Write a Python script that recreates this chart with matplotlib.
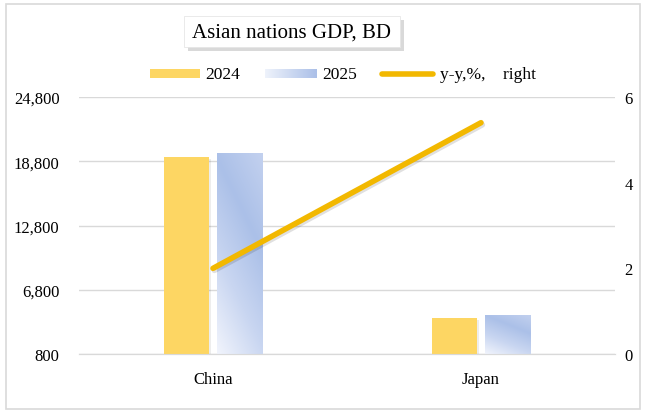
import numpy as np
import matplotlib.pyplot as plt
import matplotlib.patheffects as pe
from matplotlib.patches import Rectangle
from matplotlib.colors import LinearSegmentedColormap

# ============================================================
# DATA
# ============================================================

countries = ["China", "Japan"]
gdp_2024 = [19200, 4150]
gdp_2025 = [19550, 4450]
yoy_pct = [2.0, 5.4]

left_ticks = [800, 6800, 12800, 18800, 24800]
right_ticks = [0, 2, 4, 6]

# ============================================================
# STYLE
# ============================================================

plt.rcParams["font.family"] = ["Liberation Serif", "DejaVu Serif"]
YELLOW = "#fdd663"
LINE_GOLD = "#f2b800"
GRID = "#d9d9d9"
blue_cmap = LinearSegmentedColormap.from_list("blu", ["#f1f4fc", "#c9d6f1", "#abc0e8", "#c3d1ef"])

fig = plt.figure(figsize=(6.45, 4.14), dpi=100)

# outer chart border
fig.patches.append(Rectangle((6 / 645, 4 / 414), 634 / 645, 405 / 414,
                             transform=fig.transFigure, fill=False,
                             edgecolor=GRID, linewidth=1.2))

ax = fig.add_axes([79 / 645, 59 / 414, 536 / 645, 257 / 414])
ax2 = ax.twinx()

x = np.arange(len(countries))
width = 0.168
off = 0.098

ax.set_ylim(800, 24800)
ax.set_xlim(-0.5, 1.5)
ax2.set_ylim(0, 6)

# bar shadows
for xi, v in zip(x, gdp_2024):
    ax.bar(xi - off + 0.005, v - 800, width, bottom=800 - 200, color="#000000",
           alpha=0.07, zorder=1, linewidth=0)
for xi, v in zip(x, gdp_2025):
    ax.bar(xi + off + 0.005, v - 800, width, bottom=800 - 200, color="#000000",
           alpha=0.07, zorder=1, linewidth=0)

ax.bar(x - off, np.array(gdp_2024) - 800, width, bottom=800, color=YELLOW,
       zorder=3, linewidth=0)

# gradient 2025 bars
yy, xx = np.mgrid[0:1:100j, 0:1:100j]
grad = 0.75 * yy + 0.35 * xx
for xi, v in zip(x, gdp_2025):
    rect = Rectangle((xi + off - width / 2, 800), width, v - 800,
                     facecolor="none", edgecolor="none", zorder=3)
    ax.add_patch(rect)
    im = ax.imshow(grad, cmap=blue_cmap, origin="lower", aspect="auto",
                   extent=(xi + off - width / 2, xi + off + width / 2, 800, v),
                   zorder=3, interpolation="bilinear")
    im.set_clip_path(rect)
ax.set_xlim(-0.5, 1.5)
ax.set_ylim(800, 24800)

ax2.plot(x, yoy_pct, color=LINE_GOLD, linewidth=4, solid_capstyle="round", zorder=5,
         path_effects=[pe.SimpleLineShadow(offset=(1, -1.5), alpha=0.12), pe.Normal()])

ax.set_yticks(left_ticks)
ax.set_yticklabels([f"{t:,}" for t in left_ticks], fontsize=12)
ax2.set_yticks(right_ticks)
ax2.set_yticklabels([str(t) for t in right_ticks], fontsize=12)
ax.set_xticks(x)
ax.set_xticklabels(countries, fontsize=12)

ax.grid(axis="y", color=GRID, linewidth=1)
ax.set_axisbelow(True)
for a in (ax, ax2):
    for s in ["top", "left", "right"]:
        a.spines[s].set_visible(False)
    a.spines["bottom"].set_color(GRID)
    a.tick_params(length=0)
ax.tick_params(axis="y", pad=14)
ax2.tick_params(axis="y", pad=7)
ax.tick_params(axis="x", pad=12)
ax.set_zorder(ax2.get_zorder() - 1)
ax2.patch.set_visible(False)
ax.patch.set_visible(False)

# title box with shadow
fig.patches.append(Rectangle((188 / 645, (414 - 52) / 414), 216 / 645, 31 / 414,
                             transform=fig.transFigure, facecolor="#000000",
                             alpha=0.15, edgecolor="none"))
fig.patches.append(Rectangle((184 / 645, (414 - 48) / 414), 216 / 645, 31 / 414,
                             transform=fig.transFigure, facecolor="white",
                             edgecolor="#e6e6e6", linewidth=0.6))
fig.text(292 / 645, (414 - 33) / 414, "Asian nations GDP, BD", fontsize=15,
         ha="center", va="center")

# legend
ly = (414 - 75) / 414
fig.patches.append(Rectangle((150 / 645, ly - 4 / 414), 50 / 645, 9 / 414,
                             transform=fig.transFigure, facecolor=YELLOW, edgecolor="none"))
fig.text(205 / 645, ly, "2024", fontsize=12.5, va="center")
lg = np.linspace(0, 1, 50).reshape(1, -1)
lax = fig.add_axes([265 / 645, ly - 4 / 414, 52 / 645, 9 / 414])
lax.imshow(lg, cmap=LinearSegmentedColormap.from_list("l", ["#eef2fb", "#abc0e8"]),
           aspect="auto")
lax.axis("off")
fig.text(322 / 645, ly, "2025", fontsize=12.5, va="center")
fig.lines.append(plt.Line2D([382 / 645, 433 / 645], [ly, ly], transform=fig.transFigure,
                            color=LINE_GOLD, linewidth=4, solid_capstyle="round"))
fig.text(440 / 645, ly, "y-y,%,    right", fontsize=12.5, va="center")

fig.savefig("out.png", dpi=100)
